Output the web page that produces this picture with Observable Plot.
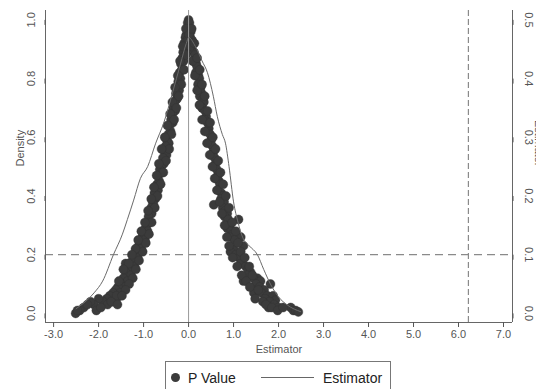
<!DOCTYPE html>
<html><head><meta charset="utf-8">
<script src="https://cdn.jsdelivr.net/npm/d3@7"></script>
<script src="https://cdn.jsdelivr.net/npm/@observablehq/plot@0.6"></script>
<style>
body{margin:0;background:#fff;font-family:"Liberation Sans",Arial,sans-serif;}
#wrap{position:relative;width:536px;height:389px;overflow:hidden;}
#legend{position:absolute;left:165px;top:361px;width:226px;height:34px;border:1px solid #777;box-sizing:border-box;color:#222;font-size:14px;}
#legend .it{position:absolute;top:16px;transform:translateY(-50%);line-height:1;white-space:nowrap;}
#legend .dot{position:absolute;left:5px;top:11px;width:9px;height:9px;border-radius:50%;background:#3b3b3b;}
#legend .ln{position:absolute;left:95px;top:15px;width:53px;height:0;border-top:1px solid #666;}
</style></head>
<body><div id="wrap"><div id="chart"></div>
<div id="legend"><span class="dot"></span><span class="it" style="left:22px">P Value</span><span class="ln"></span><span class="it" style="left:157px">Estimator</span></div>
</div>
<script>
// P Value scatter (x = estimator, y = p value)
const pX = [0.00,-0.02,-0.03,-0.01,-0.05,-0.07,-0.04,-0.10,-0.08,-0.12,-0.14,-0.11,-0.17,-0.15,-0.20,-0.18,-0.23,-0.25,-0.21,-0.28,-0.26,-0.31,-0.34,-0.30,-0.36,-0.39,-0.35,-0.42,-0.40,-0.45,-0.48,-0.44,-0.51,-0.53,-0.49,-0.57,-0.55,-0.61,-0.64,-0.59,-0.67,-0.65,-0.70,-0.73,-0.68,-0.76,-0.74,-0.80,-0.78,-0.83,-0.86,-0.82,-0.89,-0.87,-0.93,-0.96,-0.91,-0.99,-1.03,-0.97,-1.07,-1.11,-1.05,-1.16,-1.21,-1.13,-1.25,-1.40,-1.30,-1.20,-1.35,-1.40,-1.28,-1.45,-1.36,-1.50,-1.42,-1.57,-1.62,-1.52,-1.68,-1.75,-1.60,-1.82,-1.90,-1.68,-2.00,-1.80,-2.10,-2.18,-2.05,-2.33,-2.42,-2.51,-2.47,
 0.02,0.03,0.05,0.04,0.08,0.10,0.07,0.12,0.14,0.11,0.17,0.19,0.16,0.22,0.24,0.21,0.27,0.29,0.25,0.32,0.34,0.30,0.37,0.39,0.35,0.42,0.45,0.41,0.48,0.50,0.46,0.53,0.55,0.51,0.58,0.60,0.56,0.63,0.65,0.61,0.68,0.70,0.66,0.73,0.76,0.56,0.72,0.79,0.76,0.82,0.86,0.80,0.88,1.11,0.92,0.86,0.95,0.98,0.92,1.16,1.02,1.22,1.00,0.93,1.05,1.12,1.20,1.16,1.27,1.32,1.38,1.30,1.53,1.44,1.22,1.60,1.50,1.82,1.58,1.68,1.45,1.62,1.75,1.88,1.70,1.93,1.80,1.90,1.78,2.00,2.27,2.33,2.38,2.44];
const pY = [1.00,0.99,0.97,0.96,0.95,0.94,0.93,0.92,0.90,0.89,0.87,0.86,0.85,0.83,0.82,0.80,0.79,0.77,0.76,0.75,0.73,0.72,0.70,0.69,0.68,0.66,0.65,0.64,0.62,0.61,0.59,0.58,0.57,0.55,0.54,0.53,0.51,0.50,0.49,0.48,0.47,0.45,0.44,0.43,0.42,0.41,0.39,0.38,0.37,0.36,0.35,0.34,0.33,0.31,0.30,0.29,0.28,0.27,0.26,0.25,0.24,0.23,0.22,0.21,0.20,0.19,0.18,0.17,0.16,0.16,0.15,0.14,0.13,0.12,0.11,0.10,0.09,0.09,0.08,0.07,0.07,0.06,0.05,0.05,0.04,0.04,0.05,0.03,0.03,0.04,0.01,0.02,0.01,0.00,0.01,
 0.99,0.97,0.96,0.94,0.93,0.92,0.90,0.89,0.88,0.86,0.85,0.84,0.82,0.81,0.80,0.78,0.77,0.75,0.74,0.73,0.72,0.70,0.69,0.67,0.66,0.65,0.63,0.62,0.61,0.59,0.58,0.57,0.55,0.54,0.53,0.51,0.50,0.49,0.47,0.46,0.45,0.44,0.42,0.41,0.40,0.37,0.39,0.38,0.36,0.35,0.34,0.33,0.32,0.32,0.30,0.29,0.28,0.27,0.26,0.26,0.25,0.23,0.22,0.21,0.20,0.19,0.17,0.17,0.16,0.15,0.14,0.13,0.12,0.12,0.11,0.11,0.10,0.10,0.09,0.08,0.07,0.07,0.06,0.06,0.05,0.045,0.04,0.03,0.02,0.02,0.02,0.01,0.01,0.005];
// more P Value points filling the width of each band
const pX2 = [-0.06,-0.01,-0.13,-0.06,-0.19,-0.10,-0.24,-0.16,-0.30,-0.22,-0.36,-0.27,-0.41,-0.32,-0.47,-0.38,-0.53,-0.43,-0.60,-0.50,-0.66,-0.56,-0.71,-0.62,-0.77,-0.69,-0.83,-0.75,-0.90,-0.82,-0.97,-0.88,-1.05,-0.95,-1.12,-1.02,-1.18,-1.10,-1.26,-1.17,-1.33,-1.24,-1.45,-1.32,-1.55,-1.40,-1.60,-1.48,-1.72,-1.58,-1.95,-2.25,
 0.01,0.07,0.04,0.13,0.09,0.19,0.14,0.25,0.19,0.30,0.24,0.36,0.30,0.42,0.36,0.48,0.41,0.54,0.47,0.60,0.53,0.66,0.58,0.71,0.63,0.77,0.69,0.83,0.74,0.90,0.80,0.97,0.85,1.05,0.90,1.10,0.98,1.16,1.08,1.25,1.18,1.35,1.28,1.42,1.36,1.55,1.48,1.65,1.72,1.85,1.98,2.10];
const pY2 = [0.97,0.93,0.91,0.88,0.86,0.83,0.81,0.78,0.77,0.74,0.72,0.70,0.68,0.66,0.64,0.61,0.60,0.56,0.56,0.52,0.51,0.48,0.47,0.44,0.43,0.40,0.39,0.36,0.35,0.31,0.31,0.27,0.28,0.24,0.25,0.21,0.22,0.18,0.20,0.15,0.17,0.12,0.15,0.10,0.11,0.08,0.06,0.06,0.04,0.03,0.02,0.03,
 0.95,0.97,0.91,0.92,0.86,0.87,0.81,0.83,0.76,0.78,0.71,0.74,0.66,0.69,0.62,0.65,0.58,0.60,0.54,0.56,0.50,0.52,0.46,0.48,0.42,0.44,0.38,0.40,0.34,0.36,0.30,0.31,0.26,0.28,0.23,0.24,0.19,0.21,0.16,0.19,0.13,0.16,0.11,0.13,0.09,0.08,0.05,0.04,0.03,0.02,0.01,0.02];
// Estimator density (right axis units)
const estX = [-2.50,-2.10,-1.91,-1.67,-1.47,-1.36,-1.22,-1.07,-0.91,-0.73,-0.55,-0.36,-0.18,-0.05,0.00,0.15,0.30,0.42,0.55,0.64,0.75,0.82,0.90,1.00,1.10,1.20,1.35,1.53,1.67,1.82,2.00,2.20,2.49];
const estY = [0.008,0.035,0.055,0.100,0.135,0.160,0.193,0.230,0.250,0.290,0.325,0.375,0.425,0.460,0.470,0.455,0.430,0.410,0.370,0.335,0.305,0.290,0.250,0.190,0.155,0.130,0.115,0.100,0.075,0.050,0.028,0.014,0.003];
const xTicks = [-3,-2,-1,0,1,2,3,4,5,6,7];
const leftTicks = [0,0.2,0.4,0.6,0.8,1.0];
const rightTicks = [0,0.1,0.2,0.3,0.4,0.5];
const refLineX = [0];
const dashLineX = [6.22];
const dashLineY = [0.2];
const xDomain = [-3.18, 7.2];
const yDomain = [-0.031, 1.032];

const ratio = leftTicks[leftTicks.length-1] / rightTicks[rightTicks.length-1];
const pts = pX.map((x,i)=>({x, y:pY[i]})).concat(pX2.map((x,i)=>({x, y:pY2[i]})));
const est = estX.map((x,i)=>({x, y:estY[i]*ratio}));
const axisColor = "#666";
const font = "Liberation Sans, Arial, sans-serif";

const chart = Plot.plot({
  width: 536, height: 360,
  marginTop: 10, marginBottom: 38, marginLeft: 45, marginRight: 24,
  style: {fontFamily: font, background: "#fff", overflow: "visible"},
  x: {domain: xDomain},
  y: {domain: yDomain},
  marks: [
    Plot.ruleY(dashLineY, {stroke: "#8a8a8a", strokeWidth: 1.2, strokeDasharray: "8,5"}),
    Plot.ruleX(dashLineX, {stroke: "#8a8a8a", strokeWidth: 1.2, strokeDasharray: "6,3"}),
    Plot.dot(pts, {x: "x", y: "y", r: 4.5, fill: "#3b3b3b", stroke: "#333", strokeWidth: 0.4}),
    Plot.ruleX(refLineX, {stroke: "#999", strokeWidth: 1}),
    Plot.line(est, {x: "x", y: "y", stroke: "#6a6a6a", strokeWidth: 1, curve: "monotone-x"}),
    Plot.ruleX([xDomain[0], xDomain[1]], {stroke: axisColor, strokeWidth: 1}),
    Plot.ruleY([yDomain[0]], {stroke: axisColor, strokeWidth: 1}),
    Plot.axisX({ticks: xTicks, tickFormat: d => d.toFixed(1), tickSize: 5, tickPadding: 3, fontSize: 11, color: "#555", label: null}),
    Plot.axisY({anchor: "left", ticks: leftTicks, tickFormat: d => d.toFixed(1), tickSize: 5, tickPadding: 6, rotate: -90, textAnchor: "middle", lineAnchor: "bottom", fontSize: 11, color: "#555", label: null}),
    Plot.axisY({anchor: "right", ticks: rightTicks.map(v => v*ratio), tickFormat: d => (d/ratio).toFixed(1), tickSize: 5, tickPadding: 7, rotate: 90, textAnchor: "middle", lineAnchor: "bottom", fontSize: 11, color: "#555", label: null}),
    Plot.text(["Estimator"], {frameAnchor: "bottom", dy: 27, fontSize: 11, fill: "#555", lineAnchor: "middle"}),
    Plot.text(["Density"], {frameAnchor: "left", dx: -22, rotate: -90, fontSize: 11, fill: "#555", lineAnchor: "bottom"}),
    Plot.text(["Estimator"], {frameAnchor: "right", dx: 22, rotate: 90, fontSize: 11, fill: "#555", lineAnchor: "bottom"})
  ]
});
document.getElementById("chart").appendChild(chart);
</script>
</body></html>
